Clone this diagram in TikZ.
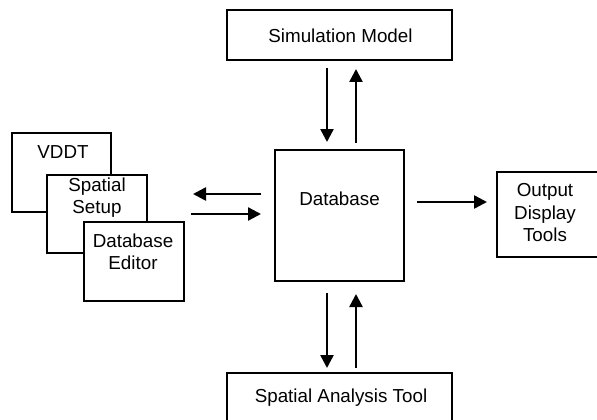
\documentclass[tikz,border=0pt]{standalone}
\usepackage{fontspec}
\setmainfont{Liberation Sans}
\usetikzlibrary{arrows.meta}
\begin{document}
\begin{tikzpicture}[x=1pt,y=-1pt,
  box/.style={draw=black,line width=2.8pt,fill=white,inner sep=0pt,outer sep=0pt},
  lbl/.style={inner sep=0pt,font=\fontsize{18.8}{22.5}\selectfont,align=center},
  arr/.style={line width=2.5pt,-{Triangle[length=13pt,width=13pt]}}]
\useasboundingbox (0,0) rectangle (597,420);
% boxes
\node[box,minimum width=225pt,minimum height=50pt] (sim) at (339.5,35) {};
\node[lbl] (siml) at (340.5,36) {Simulation Model};
\node[box,minimum width=129pt,minimum height=131pt] (db) at (339.5,215.5) {};
\node[lbl] (dbl) at (339.5,199) {Database};
\node[box,minimum width=225pt,minimum height=48pt] (sat) at (339.5,397) {};
\node[lbl] (satl) at (341,398) {Spatial Analysis Tool};
\node[box,minimum width=106pt,minimum height=85pt] (out) at (550,214.5) {};
\node[lbl] (outl) at (545,213) {Output\\Display\\Tools};
\node[box,minimum width=99pt,minimum height=79pt] (vddt) at (61.5,172.5) {};
\node[lbl] (vddtl) at (63,152) {VDDT};
\node[box,minimum width=100pt,minimum height=78pt] (ss) at (97,214) {};
\node[lbl] (ssl) at (97,197.5) {Spatial\\Setup};
\node[box,minimum width=100pt,minimum height=79pt] (dbe) at (134,261.5) {};
\node[lbl] (dbel) at (133,252) {Database\\Editor};
% arrows
\draw[arr,shorten <=8pt,shorten >=8pt] ([xshift=-12.5pt]sim.south) -- ([xshift=-12.5pt]db.north);
\draw[arr,shorten <=7pt,shorten >=9pt] ([xshift=16.5pt]db.north) -- ([xshift=16.5pt]sim.south);
\draw[arr,shorten <=12pt,shorten >=5pt] ([xshift=-12.5pt]db.south) -- ([xshift=-12.5pt]sat.north);
\draw[arr,shorten <=5pt,shorten >=13pt] ([xshift=16.5pt]sat.north) -- ([xshift=16.5pt]db.south);
\draw[arr,shorten <=14pt,shorten >=46pt] ([yshift=21.5pt]db.west) coordinate (a1) -- (a1 -| ss.east);
\draw[arr,shorten <=44pt,shorten >=14pt] ([yshift=1.5pt]db.west) coordinate (a2) (a2 -| ss.east) -- (a2);
\draw[arr,shorten <=13pt,shorten >=10pt] ([yshift=13.5pt]db.east) coordinate (a3) -- (a3 -| out.west);
\end{tikzpicture}
\end{document}
